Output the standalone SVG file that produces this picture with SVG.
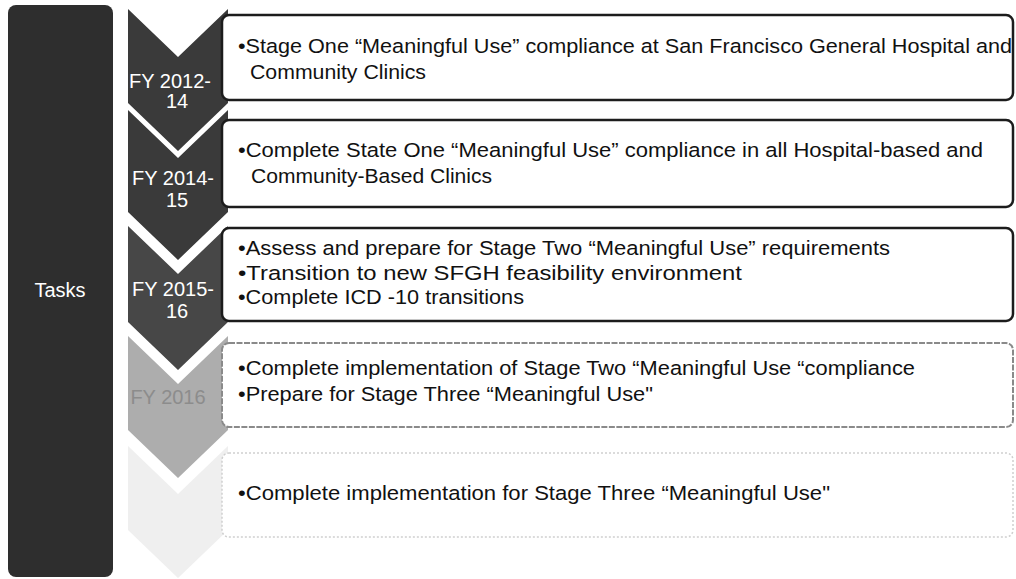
<svg xmlns="http://www.w3.org/2000/svg" width="1016" height="579" viewBox="0 0 1016 579">
<style>
.t{font-family:"Liberation Sans",Arial,sans-serif;font-size:20.5px;fill:#111}
.w{font-family:"Liberation Sans",Arial,sans-serif;font-size:20px;fill:#fff;text-anchor:middle}
.box{fill:#fff;stroke:#1c1c1c;stroke-width:2.5}
</style>
<rect width="1016" height="579" fill="#fff"/>
<g id="tasks">
<rect x="8" y="5" width="105" height="572" rx="8" fill="#2e2e2e"/>
<text class="w" x="60" y="297">Tasks</text>
</g>
<g id="connectors"></g>
<g id="chev1">
<path d="M128,9 L178,57 L228,9 L228,103 L178,151 L128,103 Z" fill="#3a3a3a"/>
<text class="w" x="170" y="88">FY 2012-</text>
<text class="w" x="177" y="108">14</text>
</g>
<g id="chev2">
<path d="M128,110 L178,158 L228,110 L228,212 L178,260 L128,212 Z" fill="#3a3a3a"/>
<text class="w" x="173" y="185">FY 2014-</text>
<text class="w" x="177" y="207">15</text>
</g>
<g id="chev3">
<path d="M128,226 L178,274 L228,226 L228,322 L178,370 L128,322 Z" fill="#474747"/>
<text class="w" x="173" y="296">FY 2015-</text>
<text class="w" x="177" y="318">16</text>
</g>
<g id="chev4">
<path d="M128,336 L178,384 L228,336 L228,430 L178,478 L128,430 Z" fill="#adadad"/>
<text class="w" x="168" y="404" style="fill:#8c8c8c">FY 2016</text>
</g>
<g id="chev5">
<path d="M128,446 L178,494 L228,446 L228,530 L178,578 L128,530 Z" fill="#efefef"/>
</g>
<g id="box1">
<rect class="box" x="222" y="15" width="791" height="85" rx="7"/>
<text class="t" x="238" y="53" textLength="774" lengthAdjust="spacingAndGlyphs">•Stage One “Meaningful Use” compliance at San Francisco General Hospital and</text>
<text class="t" x="250" y="79" textLength="176" lengthAdjust="spacingAndGlyphs">Community Clinics</text>
</g>
<g id="box2">
<rect class="box" x="222" y="120" width="791" height="87" rx="7"/>
<text class="t" x="238" y="157" textLength="745" lengthAdjust="spacingAndGlyphs">•Complete State One “Meaningful Use” compliance in all Hospital-based and</text>
<text class="t" x="251" y="183" textLength="241" lengthAdjust="spacingAndGlyphs">Community-Based Clinics</text>
</g>
<g id="box3">
<rect class="box" x="222" y="228" width="791" height="93" rx="7"/>
<text class="t" x="238" y="255" textLength="652" lengthAdjust="spacingAndGlyphs">•Assess and prepare for Stage Two “Meaningful Use” requirements</text>
<text class="t" x="238" y="280" textLength="504" lengthAdjust="spacingAndGlyphs">•Transition to new SFGH feasibility environment</text>
<text class="t" x="238" y="304" textLength="286" lengthAdjust="spacingAndGlyphs">•Complete ICD -10 transitions</text>
</g>
<g id="box4">
<rect x="222" y="343" width="791" height="84" rx="7" fill="#fff" stroke="#8a8a8a" stroke-width="2" stroke-dasharray="6 1.5"/>
<text class="t" x="238" y="375" textLength="677" lengthAdjust="spacingAndGlyphs">•Complete implementation of Stage Two “Meaningful Use “compliance</text>
<text class="t" x="238" y="401" textLength="415" lengthAdjust="spacingAndGlyphs">•Prepare for Stage Three “Meaningful Use"</text>
</g>
<g id="box5">
<rect x="222" y="453" width="791" height="84" rx="7" fill="#fff" stroke="#cfcfcf" stroke-width="1.5" stroke-dasharray="2 2"/>
<text class="t" x="238" y="500" textLength="592" lengthAdjust="spacingAndGlyphs">•Complete implementation for Stage Three “Meaningful Use"</text>
</g>
</svg>
